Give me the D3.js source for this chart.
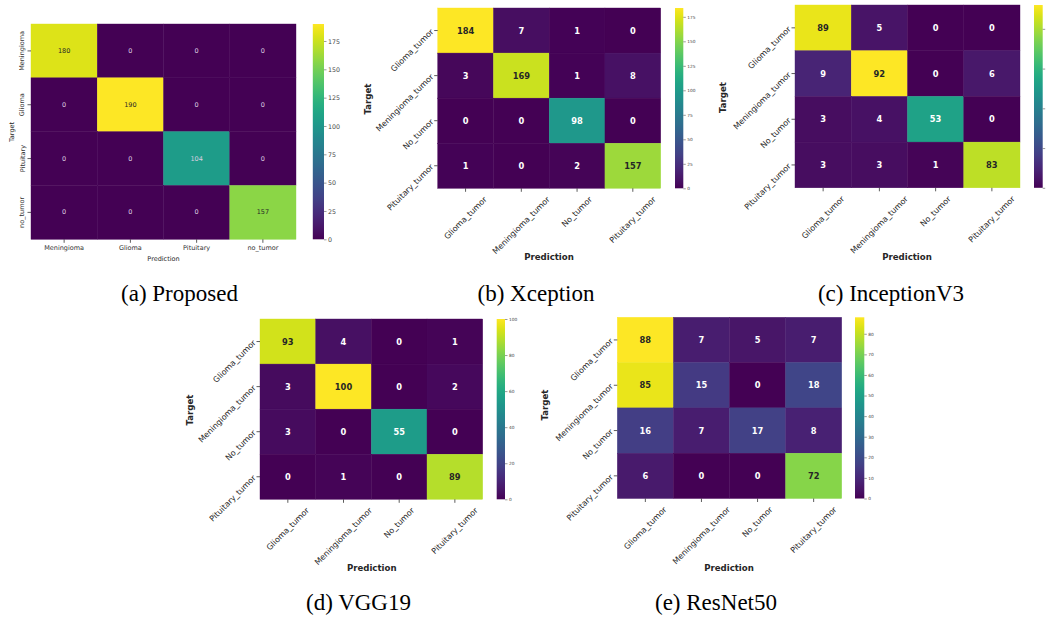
<!DOCTYPE html>
<html><head><meta charset="utf-8">
<script src="https://cdn.jsdelivr.net/npm/d3@7"></script>
<style>body{margin:0;background:#fff} svg{display:block}</style>
</head><body><svg id="c" width="1046" height="621"></svg>
<script>
// ---- data ----
const labelsProposed = ["Meningioma", "Glioma", "Pituitary", "no_tumor"];
const labelsBaseline = ["Glioma_tumor", "Meningioma_tumor", "No_tumor", "Pituitary_tumor"];
const proposed    = [[180,0,0,0],[0,190,0,0],[0,0,104,0],[0,0,0,157]];
const xception    = [[184,7,1,0],[3,169,1,8],[0,0,98,0],[1,0,2,157]];
const inceptionV3 = [[89,5,0,0],[9,92,0,6],[3,4,53,0],[3,3,1,83]];
const vgg19       = [[93,4,0,1],[3,100,0,2],[3,0,55,0],[0,1,0,89]];
const resnet50    = [[88,7,5,7],[85,15,0,18],[16,7,17,8],[6,0,0,72]];
const cbTicksProposed = [0,25,50,75,100,125,150,175];
const cbTicksXception = [0,25,50,75,100,125,150,175];
const cbTicksInception = [0,20,40,60,80];
const cbTicksVgg = [0,20,40,60,80,100];
const cbTicksResnet = [0,10,20,30,40,50,60,70,80];
const captions = ["(a) Proposed","(b) Xception","(c) InceptionV3","(d) VGG19","(e) ResNet50"];
const axisTitles = ["Prediction","Target"];

// ---- layout (positions/styles) ----
const panels = [
  {data: proposed, labels: labelsProposed, ticks: cbTicksProposed, caption: captions[0], style:"a",
   hm:[31,296,24,239.3], cb:[312.8,324], target:[11.7,132], pred:[163.5,258.5], cap:[179.5,301]},
  {data: xception, labels: labelsBaseline, ticks: cbTicksXception, caption: captions[1], style:"b",
   hm:[437.7,660.7,8,188.3], cb:[675,683.3], target:[368,99], pred:[549,257], cap:[536,301]},
  {data: inceptionV3, labels: labelsBaseline, ticks: cbTicksInception, caption: captions[2], style:"b",
   hm:[795,1020,5,187.8], cb:[1034,1042.7], target:[723,97.5], pred:[907,257], cap:[891,301]},
  {data: vgg19, labels: labelsBaseline, ticks: cbTicksVgg, caption: captions[3], style:"b",
   hm:[260,482.7,319,499.3], cb:[496.7,505], target:[190,410], pred:[371.7,568], cap:[358.5,610]},
  {data: resnet50, labels: labelsBaseline, ticks: cbTicksResnet, caption: captions[4], style:"b",
   hm:[617.3,841.7,317.3,498.5], cb:[855,864.3], target:[545,405], pred:[729,568], cap:[716,610]}
];
const styles = {
  a: {tick:6.5, annot:6.5, weight:"normal", title:6.5, titleWeight:"normal", cbFont:6.3, light:"#dccde0"},
  b: {tick:8, annot:8.3, weight:"bold", title:8.6, titleWeight:"bold", cbFont:4.3, light:"#ffffff"}
};
const FONT = "DejaVu Sans";
const W = 1046;

function lum(c){
  const rgb = d3.rgb(c);
  const f = v => { v/=255; return v <= 0.03928 ? v/12.92 : Math.pow((v+0.055)/1.055, 2.4); };
  return 0.2126*f(rgb.r) + 0.7152*f(rgb.g) + 0.0722*f(rgb.b);
}

const svg = d3.select("#c");
const defs = svg.append("defs");
const grad = defs.append("linearGradient").attr("id","viridis").attr("x1",0).attr("y1",1).attr("x2",0).attr("y2",0);
d3.range(0,1.0001,0.02).forEach(t => grad.append("stop").attr("offset", t).attr("stop-color", d3.interpolateViridis(t)));

panels.forEach((p, pi) => {
  const st = styles[p.style];
  const vmax = d3.max(p.data.flat());
  const [x0,x1,y0,y1] = p.hm;
  const x = d3.scaleBand().domain(p.labels).range([x0,x1]);
  const y = d3.scaleBand().domain(p.labels).range([y0,y1]);
  const color = d3.scaleSequential(d3.interpolateViridis).domain([0, vmax]);
  const g = svg.append("g");

  const cells = [];
  p.data.forEach((row, r) => row.forEach((v, c) => cells.push({r, c, v})));
  g.selectAll("rect.cell").data(cells).join("rect")
    .attr("x", d => x(p.labels[d.c])).attr("y", d => y(p.labels[d.r]))
    .attr("width", x.bandwidth()).attr("height", y.bandwidth())
    .attr("fill", d => color(d.v)).attr("stroke", d => color(d.v)).attr("stroke-width", 0.4);
  g.selectAll("text.annot").data(cells).join("text")
    .attr("x", d => x(p.labels[d.c]) + x.bandwidth()/2)
    .attr("y", d => y(p.labels[d.r]) + y.bandwidth()/2)
    .attr("text-anchor","middle").attr("dominant-baseline","central")
    .attr("font-family", FONT).attr("font-size", st.annot).attr("font-weight", st.weight)
    .attr("fill", d => lum(color(d.v)) > 0.408 ? "#262626" : st.light)
    .text(d => d.v);

  // tick marks
  const ax = g.append("g").attr("transform", `translate(0,${y1})`)
    .call(d3.axisBottom(x).tickSize(3.5).tickSizeOuter(0).tickFormat(""));
  const ay = g.append("g").attr("transform", `translate(${x0},0)`)
    .call(d3.axisLeft(y).tickSize(3.5).tickSizeOuter(0).tickFormat(""));
  [ax, ay].forEach(a => { a.select(".domain").remove(); a.selectAll("line").attr("stroke","#333").attr("stroke-width",0.8); });

  // tick labels
  if (p.style === "a") {
    p.labels.forEach(l => {
      g.append("text").attr("x", x(l)+x.bandwidth()/2).attr("y", y1+9)
        .attr("text-anchor","middle").attr("dominant-baseline","central")
        .attr("font-family", FONT).attr("font-size", st.tick).attr("fill","#333").text(l);
      const cx = x0 - 8.5, cy = y(l)+y.bandwidth()/2;
      g.append("text").attr("x", cx).attr("y", cy)
        .attr("text-anchor","middle").attr("dominant-baseline","central")
        .attr("transform", `rotate(-90,${cx},${cy})`)
        .attr("font-family", FONT).attr("font-size", st.tick).attr("fill","#333").text(l);
    });
  } else {
    p.labels.forEach(l => {
      const t = g.append("text").attr("text-anchor","middle").attr("dominant-baseline","central")
        .attr("font-family", FONT).attr("font-size", st.tick).attr("fill","#262626").text(l);
      const L = t.node().getComputedTextLength();
      const h = st.tick * 1.1;
      const cx = x(l)+x.bandwidth()/2;
      const cy = y1 + 6.7 + (L + h) * Math.SQRT1_2 / 2;
      t.attr("x", cx).attr("y", cy).attr("transform", `rotate(-45,${cx},${cy})`);
      const ex = x0 - 5.5, ey = y(l)+y.bandwidth()/2;
      g.append("text").attr("x", ex).attr("y", ey)
        .attr("text-anchor","end").attr("dominant-baseline","central")
        .attr("transform", `rotate(-45,${ex},${ey})`)
        .attr("font-family", FONT).attr("font-size", st.tick).attr("fill","#262626").text(l);
    });
  }

  // axis titles
  g.append("text").attr("x", p.pred[0]).attr("y", p.pred[1])
    .attr("text-anchor","middle").attr("dominant-baseline","central")
    .attr("font-family", FONT).attr("font-size", st.title).attr("font-weight", st.titleWeight)
    .attr("fill","#262626").text(axisTitles[0]);
  g.append("text").attr("x", p.target[0]).attr("y", p.target[1])
    .attr("text-anchor","middle").attr("dominant-baseline","central")
    .attr("transform", `rotate(-90,${p.target[0]},${p.target[1]})`)
    .attr("font-family", FONT).attr("font-size", st.title).attr("font-weight", st.titleWeight)
    .attr("fill","#262626").text(axisTitles[1]);

  // colorbar
  const [c0,c1] = p.cb;
  g.append("rect").attr("x", c0).attr("y", y0).attr("width", c1-c0).attr("height", y1-y0)
    .attr("fill","url(#viridis)");
  const cs = d3.scaleLinear().domain([0, vmax]).range([y1, y0]);
  const ca = g.append("g").attr("transform", `translate(${c1},0)`)
    .call(d3.axisRight(cs).tickValues(p.ticks).tickSize(2.5).tickPadding(1.5));
  ca.select(".domain").remove();
  ca.selectAll("line").attr("stroke","#555").attr("stroke-width",0.6);
  ca.selectAll("text").attr("font-family", FONT).attr("font-size", st.cbFont).attr("fill","#444");
  // labels that fall outside the page are not visible in the reference (cropped)
  if (c1 + 4 >= W - 4) ca.selectAll("text").remove();

  // caption
  svg.append("text").attr("x", p.cap[0]).attr("y", p.cap[1]).attr("text-anchor","middle")
    .attr("font-family","Liberation Serif").attr("font-size", 23).attr("fill","#000").text(p.caption);
});
</script>
</body></html>
